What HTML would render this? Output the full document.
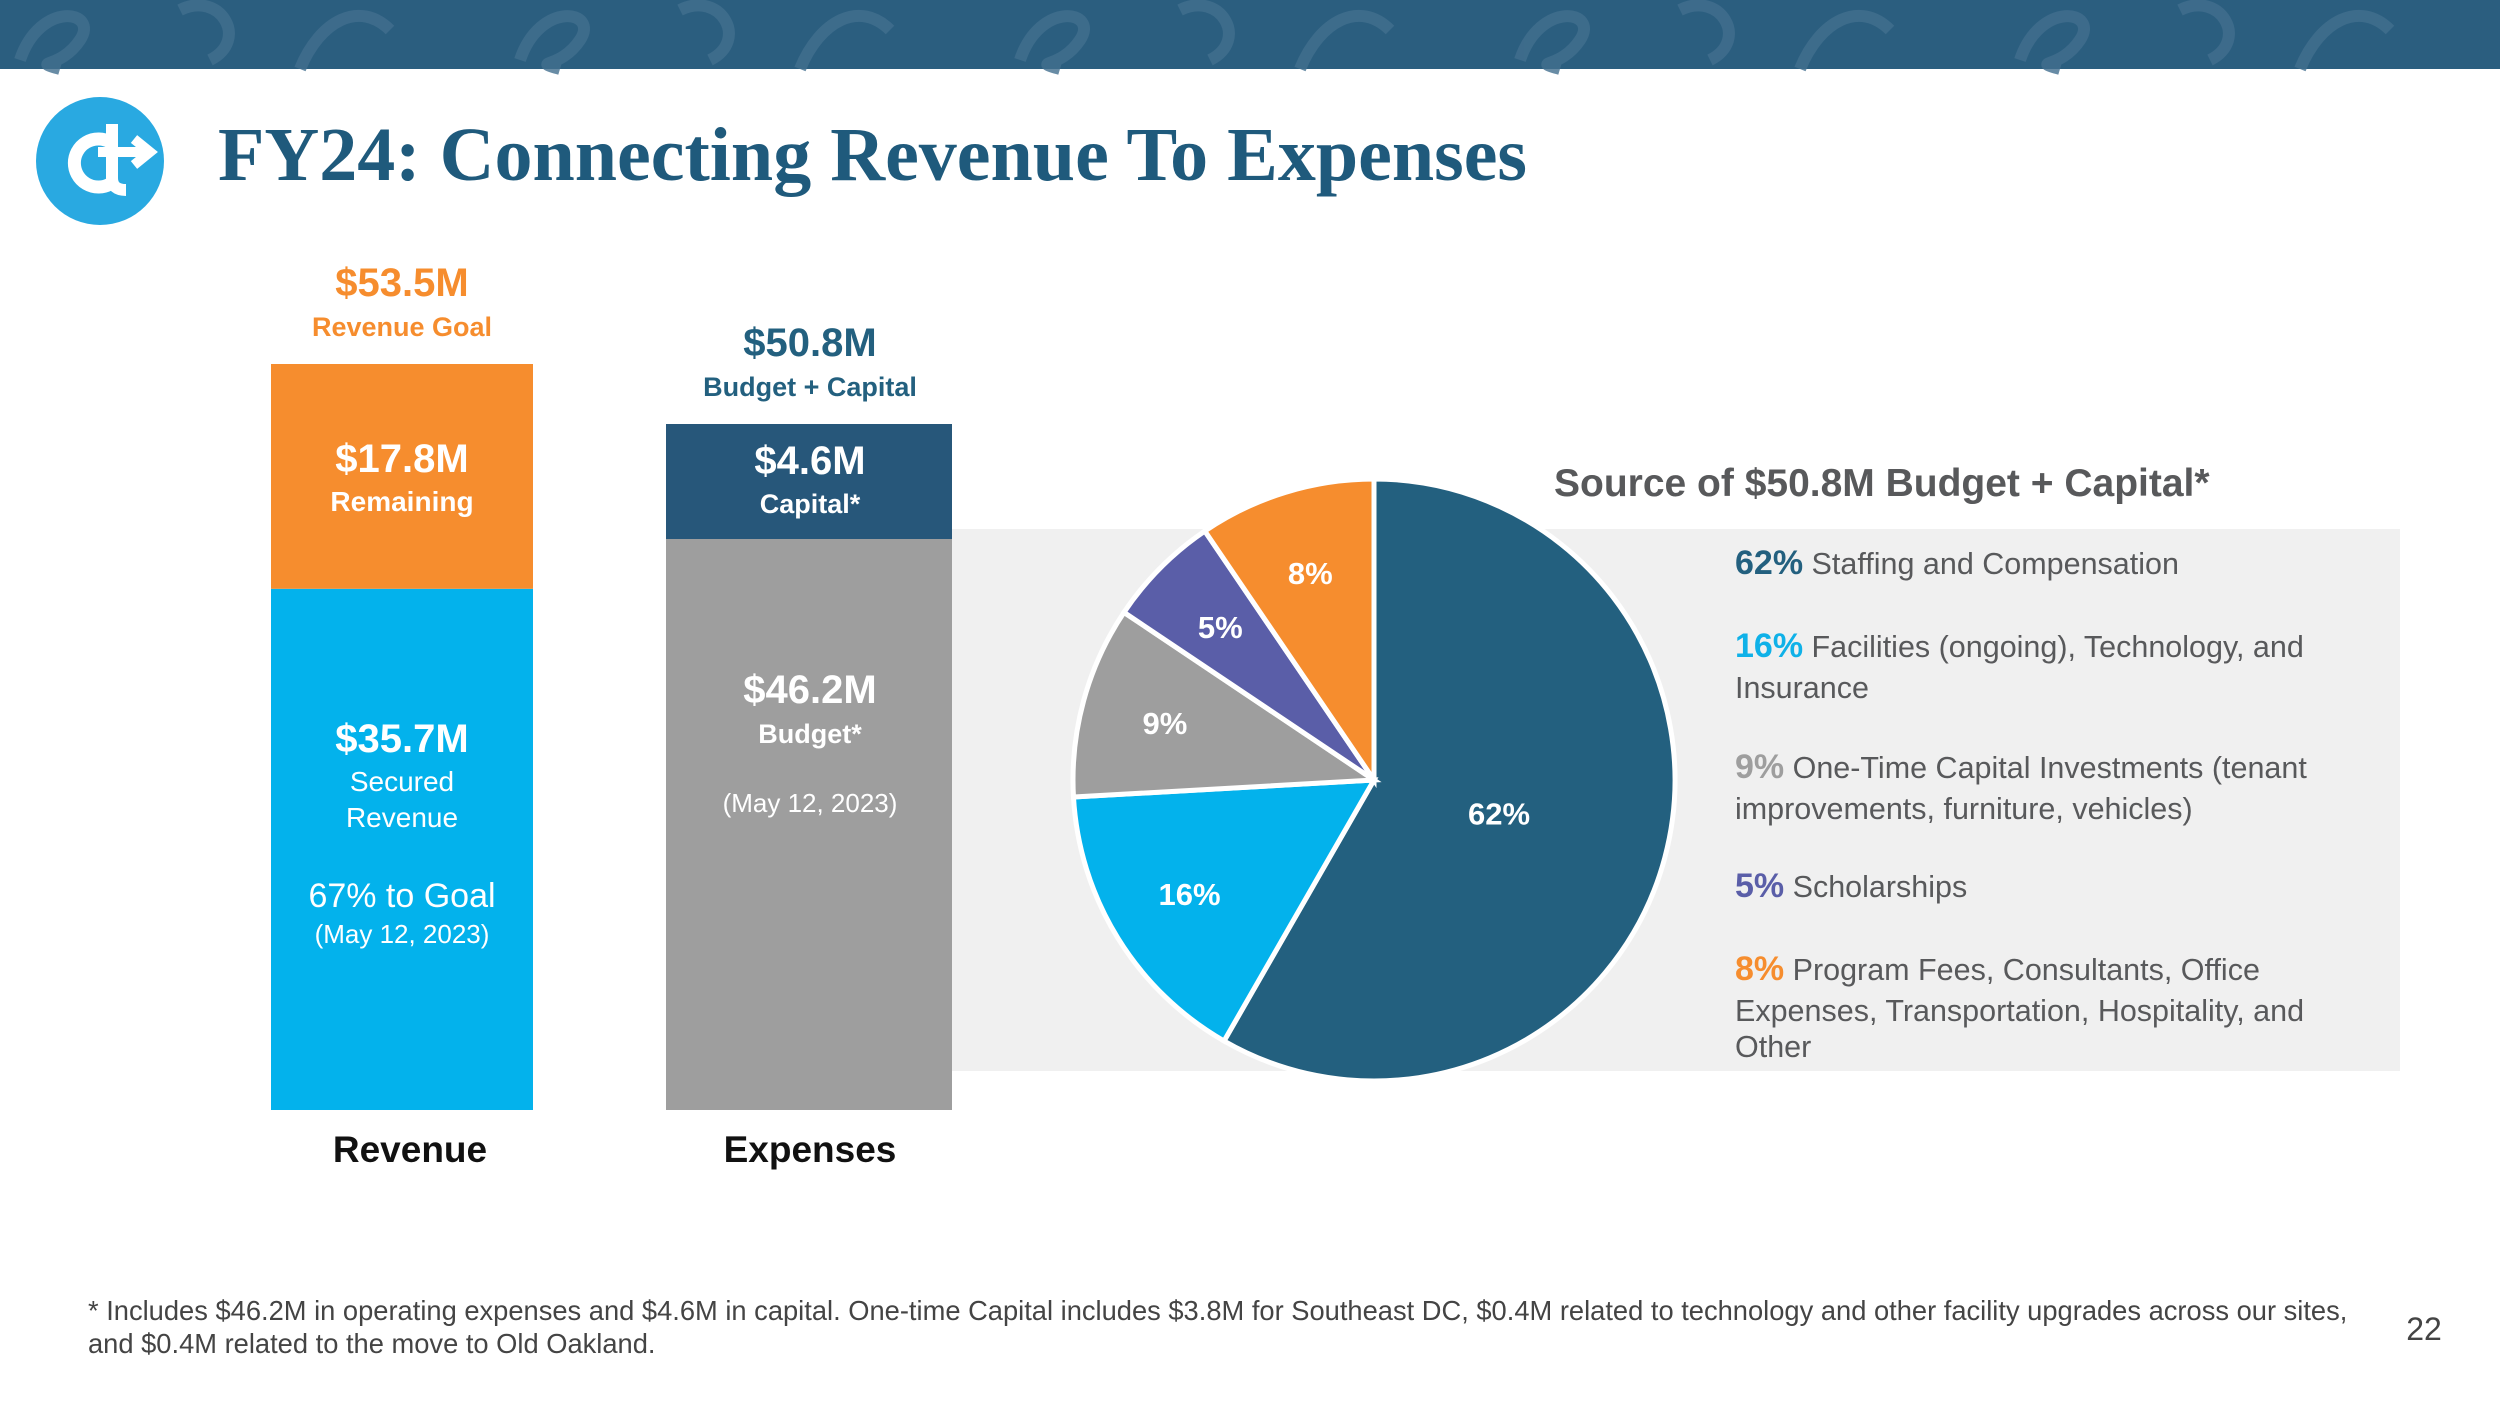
<!DOCTYPE html>
<html><head><meta charset="utf-8">
<style>
html,body{margin:0;padding:0;background:#fff;}
body{width:2500px;height:1406px;overflow:hidden;position:relative;font-family:"Liberation Sans",sans-serif;}
svg{position:absolute;left:0;top:0;}
</style></head>
<body>
<svg id="chart" width="2500" height="1406" viewBox="0 0 2500 1406">
  <rect x="0" y="0" width="2500" height="69" fill="#2b5e7f"/>
  <g fill="none" stroke="#426f8f" stroke-width="12" opacity="0.8">
    <path d="M20 60 C40 0 100 10 80 40 S30 60 60 69"/><path d="M180 10 C220 -10 250 40 210 60"/><path d="M300 69 C320 20 360 0 390 30"/>
    <path d="M520 60 C540 0 600 10 580 40 S530 60 560 69"/><path d="M680 10 C720 -10 750 40 710 60"/><path d="M800 69 C820 20 860 0 890 30"/>
    <path d="M1020 60 C1040 0 1100 10 1080 40 S1030 60 1060 69"/><path d="M1180 10 C1220 -10 1250 40 1210 60"/><path d="M1300 69 C1320 20 1360 0 1390 30"/>
    <path d="M1520 60 C1540 0 1600 10 1580 40 S1530 60 1560 69"/><path d="M1680 10 C1720 -10 1750 40 1710 60"/><path d="M1800 69 C1820 20 1860 0 1890 30"/>
    <path d="M2020 60 C2040 0 2100 10 2080 40 S2030 60 2060 69"/><path d="M2180 10 C2220 -10 2250 40 2210 60"/><path d="M2300 69 C2320 20 2360 0 2390 30"/>
  </g>
  <g>
    <circle cx="100" cy="161" r="64" fill="#29a9e1"/>
    <path d="M110 142 A24 24 0 1 0 110 184" fill="none" stroke="#fff" stroke-width="13"/>
    <path d="M112 124 L112 178 Q112 190 126 190" fill="none" stroke="#fff" stroke-width="12"/>
    <path d="M98 152 L146 152 M134 139 L150 152 L134 165" fill="none" stroke="#fff" stroke-width="10"/>
  </g>
  <text x="218" y="180" font-family="Liberation Serif, serif" font-weight="bold" font-size="76" fill="#1f5a7c">FY24: Connecting Revenue To Expenses</text>

  <rect x="952" y="529" width="1448" height="542" fill="#f0f0f0"/>
  <g id="bars"></g>
  <g id="pie"></g>

  <text x="1554" y="496" font-size="39" font-weight="bold" fill="#58595b">Source of $50.8M Budget + Capital*</text>
  <g font-size="30.5" fill="#58595b">
    <text x="1735" y="574"><tspan font-weight="bold" font-size="34" fill="#23607f">62%</tspan> Staffing and Compensation</text>
    <text x="1735" y="657"><tspan font-weight="bold" font-size="34" fill="#0fb1e8">16%</tspan> Facilities (ongoing), Technology, and</text>
    <text x="1735" y="698">Insurance</text>
    <text x="1735" y="778"><tspan font-weight="bold" font-size="34" fill="#9e9e9e">9%</tspan> One-Time Capital Investments (tenant</text>
    <text x="1735" y="819">improvements, furniture, vehicles)</text>
    <text x="1735" y="897"><tspan font-weight="bold" font-size="34" fill="#5a5ea8">5%</tspan> Scholarships</text>
    <text x="1735" y="980"><tspan font-weight="bold" font-size="34" fill="#f68d2e">8%</tspan> Program Fees, Consultants, Office</text>
    <text x="1735" y="1021">Expenses, Transportation, Hospitality, and</text>
    <text x="1735" y="1057">Other</text>
  </g>

  <text x="410" y="1162" text-anchor="middle" font-size="37" font-weight="bold" fill="#111">Revenue</text>
  <text x="810" y="1162" text-anchor="middle" font-size="37" font-weight="bold" fill="#111">Expenses</text>

  <g font-size="27.3" fill="#444">
    <text x="88" y="1320">* Includes $46.2M in operating expenses and $4.6M in capital. One-time Capital includes $3.8M for Southeast DC, $0.4M related to technology and other facility upgrades across our sites,</text>
    <text x="88" y="1353">and $0.4M related to the move to Old Oakland.</text>
  </g>
  <text x="2424" y="1340" font-size="32" fill="#444" text-anchor="middle">22</text>
</svg>
<script>
var revenueValues = [35.7, 17.8];
var expenseValues = [46.2, 4.6];
var pieValues = [58.3, 15.8, 10.3, 6.1, 9.5];
var pieLabels = ["62%", "16%", "9%", "5%", "8%"];
var pieColors = ["#23607f", "#03b2ec", "#9e9e9e", "#5a5ea8", "#f68d2e"];

var NS = "http://www.w3.org/2000/svg";
function mk(tag, attrs, parent, txt){
  var e = document.createElementNS(NS, tag);
  for (var k in attrs) e.setAttribute(k, attrs[k]);
  if (txt !== undefined) e.textContent = txt;
  parent.appendChild(e); return e;
}
var base = 1110;
var bars = document.getElementById('bars');

// revenue bar (scaled to its own height)
var revTotal = revenueValues[0] + revenueValues[1];
var revScale = 746 / 53.5;
var r1 = base - revTotal * revScale;
var r0 = base - revenueValues[0] * (revScale * 1.047);
var sec = mk('rect', {x:271, y:r0, width:262, height:base - r0, fill:'#03b2ec'}, bars);


var rem = mk('rect', {x:271, y:r1, width:262, height:r0 - r1, fill:'#f68d2e'}, bars);


// expense bar
var expTotal = expenseValues[0] + expenseValues[1];
var expScale = 686 / 50.8;
var e1 = base - expTotal * expScale;
var e0 = e1 + Math.max(expenseValues[1] * expScale, 115);
var bud = mk('rect', {x:666, y:e0, width:286, height:base - e0, fill:'#9e9e9e'}, bars);


var cap = mk('rect', {x:666, y:e1, width:286, height:e0 - e1, fill:'#27577a'}, bars);



function t(x, yy, s, size, color, bold, name){
  var e = mk('text', {x:x, y:yy, 'text-anchor':'middle', 'font-size':size, fill:color, 'font-weight': bold ? 'bold' : 'normal'}, bars, s);
  
  
}
t(402, r1 - 68, '$' + revTotal.toFixed(1) + 'M', 40, '#f68d2e', true, 'revenue-goal-value');
t(402, r1 - 28, 'Revenue Goal', 27, '#f68d2e', true, 'revenue-goal-label');
t(810, e1 - 68, '$' + expTotal.toFixed(1) + 'M', 40, '#23607f', true, 'expenses-total-value');
t(810, e1 - 28, 'Budget + Capital', 27, '#23607f', true, 'expenses-total-label');
t(402, 472, '$' + revenueValues[1] + 'M', 40, '#fff', true, 'remaining-value');
t(402, 511, 'Remaining', 28, '#fff', true, 'remaining-label');
t(402, 752, '$' + revenueValues[0] + 'M', 40, '#fff', true, 'secured-value');
t(402, 791, 'Secured', 28, '#fff', false, 'secured-label');
t(402, 827, 'Revenue', 28, '#fff', false, 'secured-label-2');
t(402, 907, Math.round(revenueValues[0] / revTotal * 100) + '% to Goal', 34, '#fff', false, 'percent-to-goal');
t(402, 943, '(May 12, 2023)', 26, '#fff', false, 'revenue-date');
t(810, 474, '$' + expenseValues[1] + 'M', 40, '#fff', true, 'capital-value');
t(810, 513, 'Capital*', 27, '#fff', true, 'capital-label');
t(810, 703, '$' + expenseValues[0] + 'M', 40, '#fff', true, 'budget-value');
t(810, 743, 'Budget*', 27, '#fff', true, 'budget-label');
t(810, 812, '(May 12, 2023)', 26, '#fff', false, 'budget-date');

// pie
var pie = document.getElementById('pie');
var cx = 1374, cy = 780, R = 301;
var total = pieValues.reduce(function(a,b){return a+b;}, 0);
var ang = 0;
var sliceNames = ['slice-staffing','slice-facilities','slice-capital','slice-scholarships','slice-program-fees'];
for (var i = 0; i < pieValues.length; i++){
  var a0 = ang, a1 = ang + pieValues[i] / total * 2 * Math.PI;
  var x0 = cx + R * Math.sin(a0), y0 = cy - R * Math.cos(a0);
  var x1 = cx + R * Math.sin(a1), y1 = cy - R * Math.cos(a1);
  var large = (a1 - a0) > Math.PI ? 1 : 0;
  var p = mk('path', {d:'M' + cx + ' ' + cy + ' L' + x0 + ' ' + y0 + ' A' + R + ' ' + R + ' 0 ' + large + ' 1 ' + x1 + ' ' + y1 + ' Z', fill:pieColors[i], stroke:'#fff', 'stroke-width':5}, pie);
  
  
  var mid = (a0 + a1) / 2, lr = (i === 0) ? 0.43 : 0.72;
  var lt = mk('text', {x: cx + lr * R * Math.sin(mid), y: cy - lr * R * Math.cos(mid) + 11, 'text-anchor':'middle', 'font-size':31, 'font-weight':'bold', fill:'#fff'}, pie, pieLabels[i]);
  
  
  ang = a1;
}
</script>
</body></html>
